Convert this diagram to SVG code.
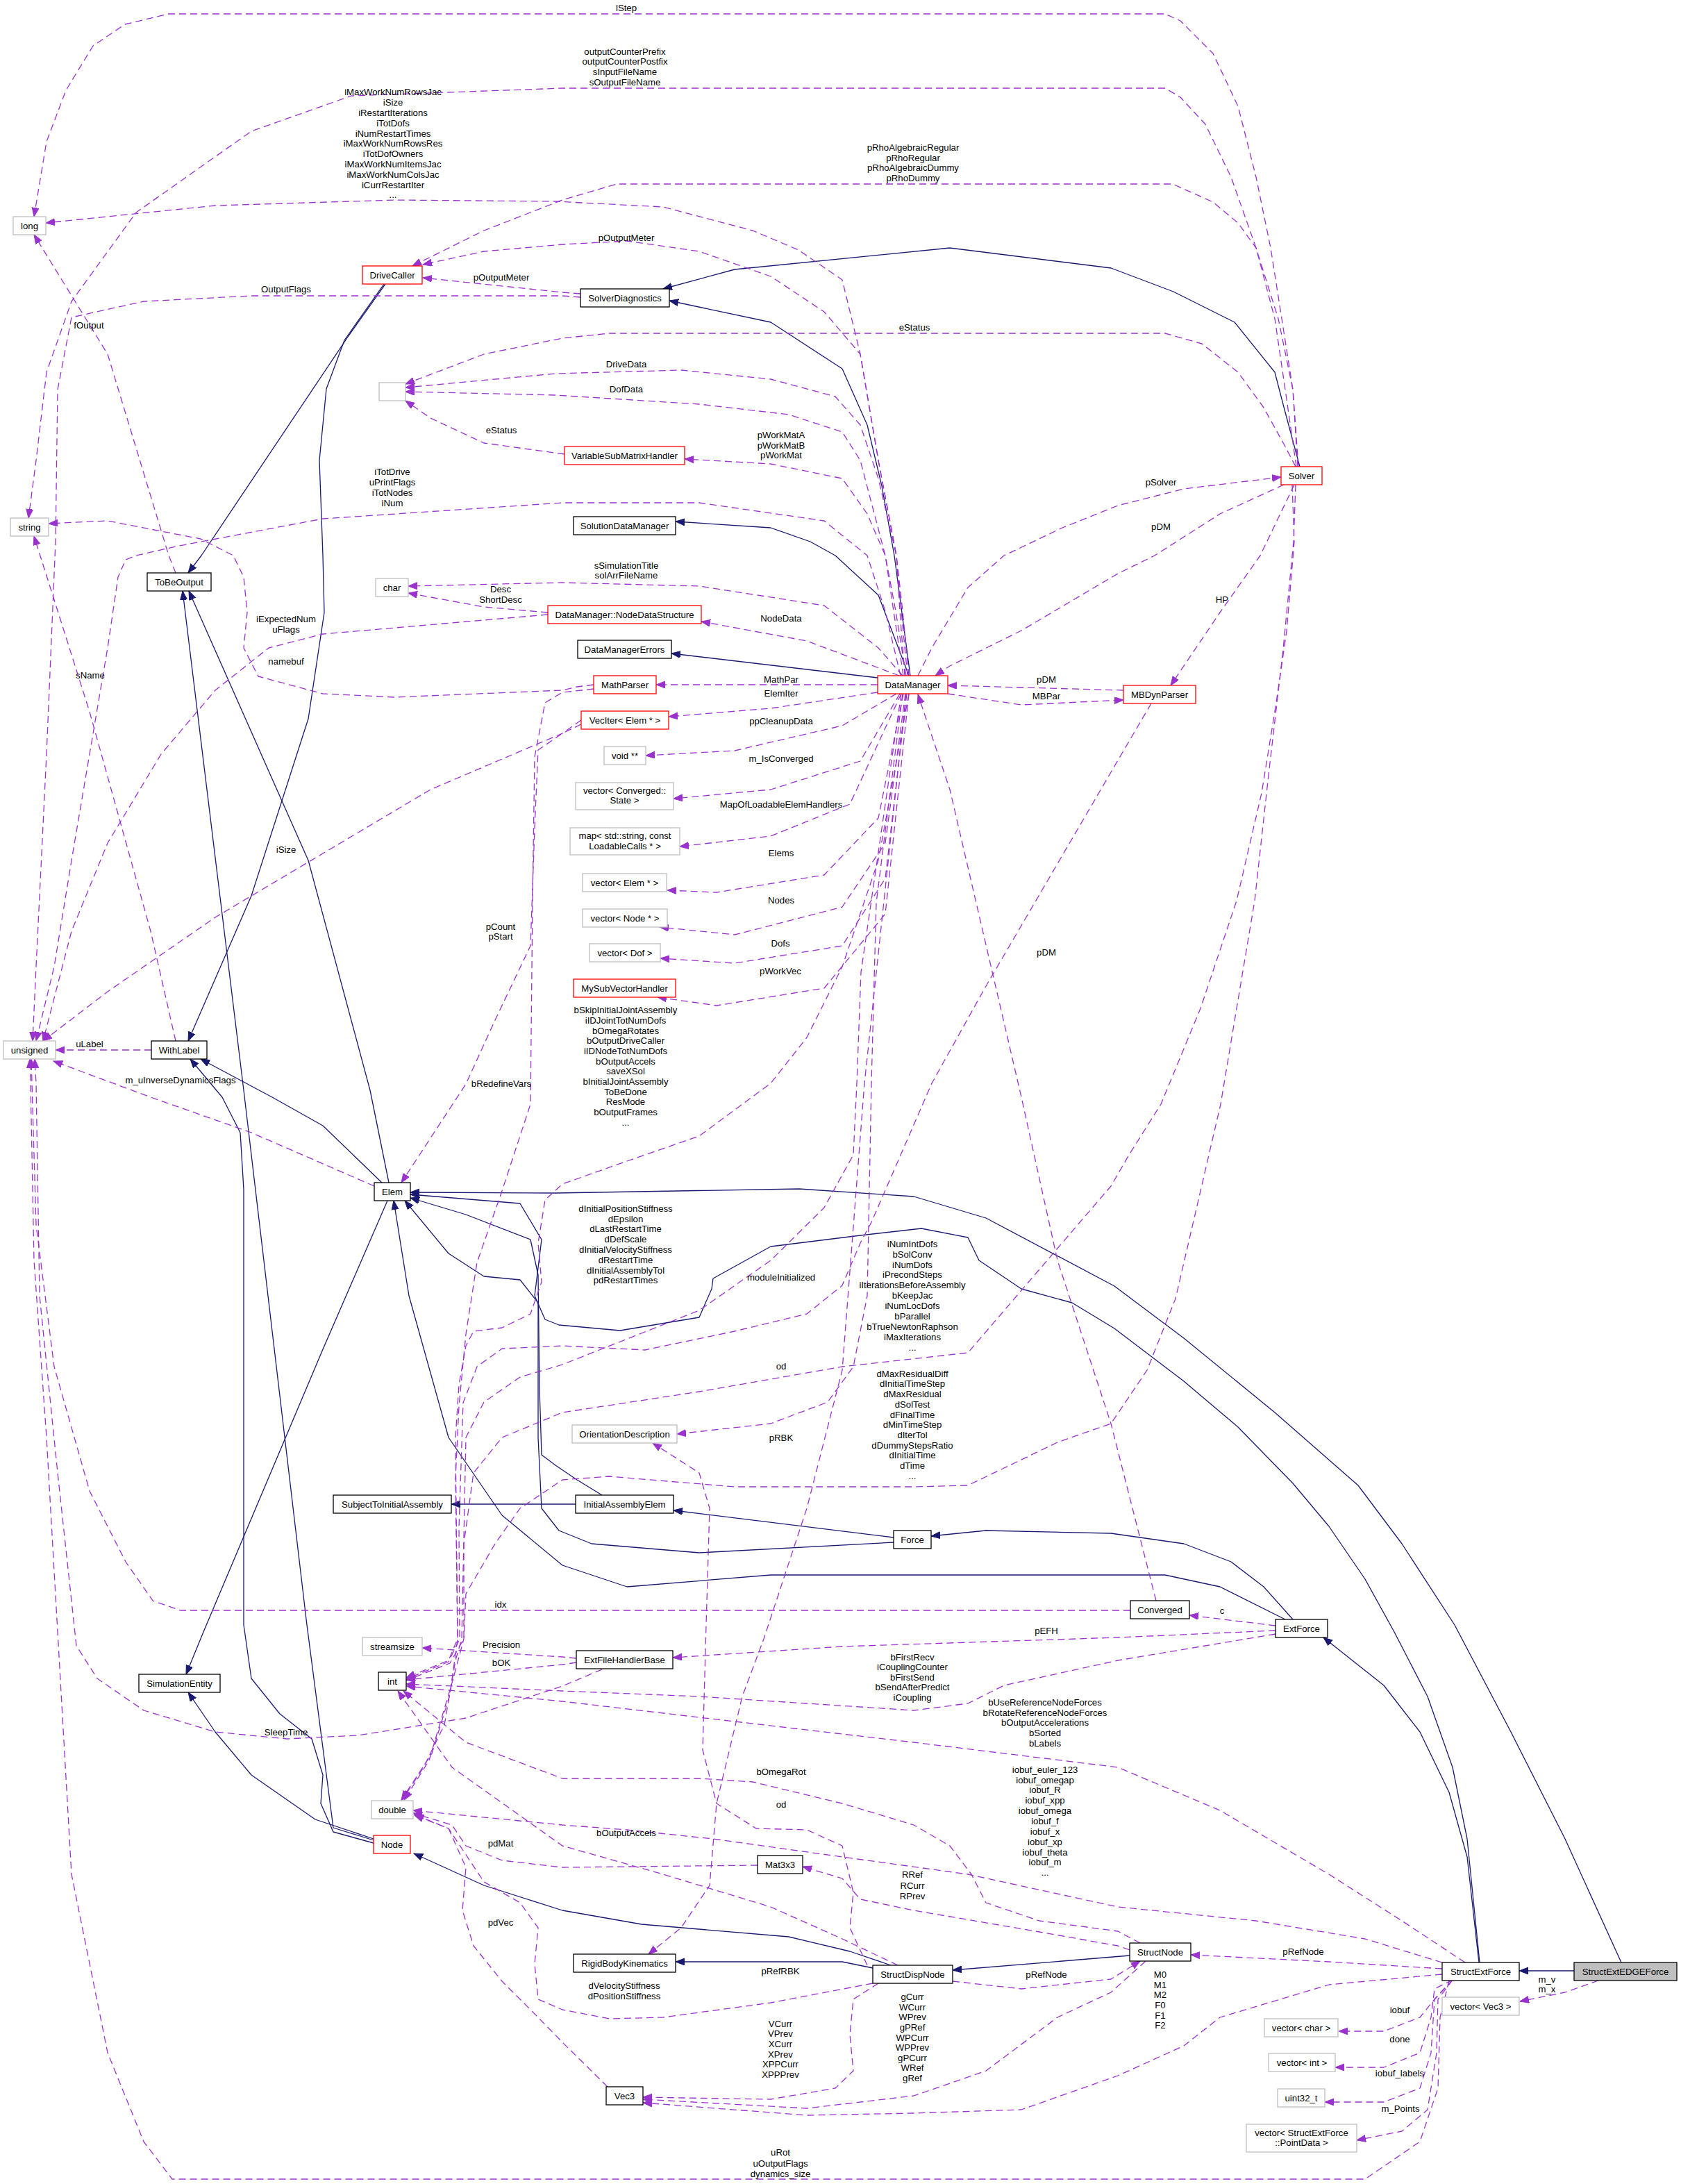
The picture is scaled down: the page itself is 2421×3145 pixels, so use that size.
<svg xmlns="http://www.w3.org/2000/svg" width="2421" height="3145" viewBox="0 0 2421 3145">
<defs>
<marker id="ai" markerUnits="userSpaceOnUse" markerWidth="14" markerHeight="11" refX="13" refY="5" orient="auto"><path d="M0,0 L13,5 L0,10 z" fill="#191970" stroke="#191970" stroke-width="1"/></marker>
<marker id="au" markerUnits="userSpaceOnUse" markerWidth="14" markerHeight="11" refX="13" refY="5" orient="auto"><path d="M0,0 L13,5 L0,10 z" fill="#9a32cd" stroke="#9a32cd" stroke-width="1"/></marker>
</defs>
<style>
text{font-family:"Liberation Sans",Arial,Helvetica,sans-serif;font-size:13.2px;fill:#000;text-anchor:middle}
.n rect{fill:#fff;stroke-width:1.3}
.k rect{stroke:#000}
.r rect{stroke:#ff0000}
.g rect{stroke:#bfbfbf}
.i{fill:none;stroke:#191970;stroke-width:1.3;stroke-linejoin:round;marker-end:url(#ai)}
.u{fill:none;stroke:#9a32cd;stroke-width:1.3;stroke-linejoin:round;stroke-dasharray:10,6;marker-end:url(#au)}
</style>
<rect x="0" y="0" width="2421" height="3145" fill="#fff"/>
<g id="connectors">
<path class="i" d="M2267,2838 L2188,2838"/>
<path class="i" d="M2335,2826 L2254,2648 L2176,2494 L2095,2340 L2019,2223 L1956,2139 L1836,2034 L1705,1927 L1605,1852 L1420,1754 L1316,1723 L1151,1712 L800,1718 L591,1717"/>
<path class="i" d="M2131,2826 L2113,2648 L2092,2545 L2056,2443 L2008,2350 L1966,2274 L1914,2198 L1862,2136 L1783,2055 L1705,1989 L1605,1913 L1544,1876 L1471,1856 L1410,1815 L1394,1782 L1327,1769 L1239,1779 L1110,1795 L1027,1841 L1025,1856 L1007,1897 L893,1916 L805,1908 L785,1900 L770,1866 L780,1785 L749,1733 L591,1720"/>
<path class="i" d="M867,2153 L831,2131 L800,2110 L780,2095 L777,2000 L775,1836 L764,1785 L671,1749 L591,1725"/>
<path class="i" d="M1287,2221 L1007,2236 L852,2223 L805,2204 L780,2172 L775,2070 L775,1876 L749,1843 L697,1838 L646,1805 L583,1729"/>
<path class="i" d="M1851,2332 L1757,2285 L1678,2268 L1110,2268 L903,2285 L810,2254 L723,2182 L646,2070 L589,1866 L567,1729"/>
<path class="i" d="M1862,2332 L1820,2285 L1773,2249 L1705,2223 L1600,2208 L1420,2204 L1341,2212"/>
<path class="i" d="M1287,2214 L970,2175"/>
<path class="i" d="M829,2166 L650,2166"/>
<path class="i" d="M2130,2826 L2113,2674 L2087,2581 L2045,2494 L1993,2427 L1906,2358"/>
<path class="i" d="M550,1703 L465,1621 L392,1580 L289,1525"/>
<path class="i" d="M560,1703 L533,1570 L444,1239 L272,851"/>
<path class="i" d="M558,1729 L465,1943 L293,2350 L268,2411"/>
<path class="i" d="M538,2654 L480,2638 L462,2597 L465,2556 L449,2504 L403,2468 L362,2417 L351,2340 L351,1713 L346,1631 L320,1580 L274,1525"/>
<path class="i" d="M538,2650 L480,2632 L442,2340 L351,1570 L263,851"/>
<path class="i" d="M538,2648 L454,2620 L362,2556 L310,2494 L271,2437"/>
<path class="i" d="M1283,2830 L1224,2810 L1136,2789 L924,2771 L810,2751 L697,2715 L596,2669"/>
<path class="i" d="M1257,2834 L1213,2825 L973,2825"/>
<path class="i" d="M1627,2816 L1372,2837"/>
<path class="i" d="M1309,973 L1265,857 L1203,800 L1167,780 L1110,760 L973,751"/>
<path class="i" d="M1311,973 L1288,800 L1270,700 L1249,612 L1213,531 L1110,464 L964,433"/>
<path class="i" d="M1264,976 L967,941"/>
<path class="i" d="M1872,672 L1850,590 L1836,536 L1778,464 L1690,420 L1600,386 L1368,357 L1058,388 L955,416"/>
<path class="i" d="M555,409 L501,485 L290,800 L271,825"/>
<path class="i" d="M553,409 L496,490 L470,560 L460,663 L465,800 L467,882 L444,1035 L362,1290 L271,1499"/>

<path class="u" d="M1870,672 L1862,561 L1846,459 L1830,357 L1809,255 L1783,153 L1747,77 L1700,30 L1678,20 L243,20 L180,35 L134,66 L95,130 L67,204 L49,312"/>
<path class="u" d="M1867,672 L1851,561 L1836,459 L1809,357 L1773,255 L1736,179 L1700,140 L1678,127 L810,127 L506,138 L362,189 L196,306 L103,434 L67,536 L52,663 L41,746"/>
<path class="u" d="M1869,672 L1862,561 L1841,459 L1809,357 L1783,321 L1747,291 L1689,265 L888,265 L810,288 L697,332 L594,383"/>
<path class="u" d="M1866,672 L1851,643 L1820,587 L1783,536 L1731,495 L1678,480 L878,480 L810,487 L697,510 L584,553"/>
<path class="u" d="M1303,973 L1296,880 L1291,800 L1265,663 L1239,510 L1213,403 L1150,360 L1084,332 L955,298 L800,290 L568,288 L310,296 L66,321"/>
<path class="u" d="M253,825 L243,800 L155,510 L49,338"/>
<path class="u" d="M253,1499 L217,1341 L129,1025 L49,772"/>
<path class="u" d="M855,986 L831,989 L810,994 L568,1004 L465,999 L372,974 L351,933 L356,882 L351,831 L336,800 L289,776 L155,750 L70,754"/>
<path class="u" d="M836,423 L810,421 L609,400"/>
<path class="u" d="M1307,973 L1298,880 L1291,800 L1265,663 L1239,510 L1187,449 L1110,398 L1007,362 L903,347 L810,352 L697,362 L609,381"/>
<path class="u" d="M836,428 L810,426 L362,426 L207,434 L103,457 L83,561 L80,780 L67,1086 L52,1392 L47,1499"/>
<path class="u" d="M1309,973 L1300,880 L1291,800 L1265,689 L1239,612 L1203,571 L1110,546 L981,533 L800,538 L584,558"/>
<path class="u" d="M1305,973 L1290,880 L1275,800 L1239,663 L1213,622 L1136,597 L1007,582 L800,569 L584,564"/>
<path class="u" d="M813,654 L697,638 L620,602 L584,577"/>
<path class="u" d="M1301,973 L1287,880 L1275,800 L1249,740 L1213,689 L1110,668 L986,661"/>
<path class="u" d="M1297,973 L1275,880 L1249,800 L1187,750 L1007,724 L810,724 L465,747 L258,786 L196,800 L181,806 L170,831 L155,933 L129,1086 L103,1239 L78,1392 L52,1499"/>
<path class="u" d="M789,885 L465,913 L387,933 L310,994 L232,1086 L155,1214 L103,1341 L62,1499"/>
<path class="u" d="M789,882 L697,874 L588,854"/>
<path class="u" d="M1300,973 L1265,933 L1187,872 L1007,844 L810,839 L588,844"/>
<path class="u" d="M1295,973 L1162,923 L1010,895"/>
<path class="u" d="M1264,986 L945,986"/>
<path class="u" d="M1264,997 L1110,1020 L963,1032"/>
<path class="u" d="M1291,999 L1213,1045 L1058,1081 L930,1088"/>
<path class="u" d="M1296,999 L1239,1096 L1110,1137 L970,1150"/>
<path class="u" d="M1298,999 L1224,1158 L1110,1204 L979,1219"/>
<path class="u" d="M1301,999 L1265,1178 L1187,1260 L1032,1285 L961,1282"/>
<path class="u" d="M1304,999 L1275,1214 L1213,1306 L1058,1346 L950,1335"/>
<path class="u" d="M1306,999 L1275,1265 L1213,1362 L1058,1387 L951,1380"/>
<path class="u" d="M1309,999 L1275,1316 L1187,1423 L1032,1448 L947,1436"/>
<path class="u" d="M1849,698 L1757,740 L1663,800 L1610,826 L1471,908 L1368,959 L1347,973"/>
<path class="u" d="M1322,973 L1342,933 L1394,846 L1446,800 L1530,760 L1610,728 L1705,704 L1845,687"/>
<path class="u" d="M1864,698 L1815,800 L1757,882 L1686,987"/>
<path class="u" d="M1618,994 L1365,987"/>
<path class="u" d="M1365,999 L1471,1015 L1618,1008"/>
<path class="u" d="M1665,2305 L1631,2172 L1600,2050 L1523,1815 L1471,1580 L1368,1137 L1322,1000"/>
<path class="u" d="M1309,999 L1265,1239 L1213,1392 L1162,1494 L1110,1560 L1007,1636 L903,1672 L810,1705 L785,1728 L775,1790 L780,1846 L764,1892 L723,1912 L682,1917 L671,1938 L661,1994 L656,2070 L659,2360 L646,2391 L585,2416"/>
<path class="u" d="M1658,1013 L1600,1112 L1420,1420 L1342,1560 L1255,1760 L1239,1790 L1213,1851 L1162,1892 L1058,1917 L929,1944 L810,1938 L723,1942 L687,1968 L667,2020 L661,2200 L662,2360 L646,2393 L585,2418"/>
<path class="u" d="M1298,999 L1240,1400 L1234,1560 L1229,1663 L1187,1739 L1110,1815 L1007,1887 L810,1965 L749,1983 L697,2019 L671,2070 L665,2360 L656,2391 L640,2484 L610,2545 L579,2592"/>
<path class="u" d="M1300,999 L1262,1300 L1255,1560 L1249,1866 L1229,1968 L1192,2019 L1110,2050 L975,2065"/>
<path class="u" d="M1305,999 L1245,1560 L1213,1973 L1162,2172 L1100,2360 L1069,2443 L1032,2597 L1022,2715 L981,2776 L934,2814"/>
<path class="u" d="M1861,698 L1864,780 L1853,909 L1838,1012 L1817,1142 L1781,1297 L1729,1452 L1672,1590 L1626,1663 L1600,1708 L1394,1948 L1213,1968 L1007,2004 L810,2034 L723,2070 L682,2121 L668,2223 L668,2360 L648,2395 L585,2420"/>
<path class="u" d="M1866,698 L1863,780 L1848,935 L1827,1116 L1807,1297 L1781,1452 L1758,1590 L1729,1715 L1693,1870 L1652,1973 L1600,2050 L1523,2077 L1394,2139 L1317,2141 L1058,2141 L877,2126 L810,2131 L749,2172 L713,2223 L671,2295 L668,2360 L652,2420 L618,2535 L582,2592"/>
<path class="u" d="M855,992 L810,997 L785,1012 L770,1090 L767,1297 L764,1590 L723,1715 L687,1818 L671,1921 L661,2025 L656,2128 L659,2360 L648,2440 L622,2525 L578,2592"/>
<path class="u" d="M837,1043 L810,1056 L775,1080 L770,1193 L764,1362 L713,1469 L671,1561 L578,1703"/>
<path class="u" d="M837,1037 L810,1056 L620,1137 L465,1229 L310,1321 L155,1428 L62,1499"/>
<path class="u" d="M539,1708 L362,1631 L217,1580 L77,1528"/>
<path class="u" d="M218,1512 L80,1512"/>
<path class="u" d="M1628,2319 L260,2319 L220,2305 L181,2249 L129,2147 L78,1968 L52,1764 L46,1560 L45,1525"/>
<path class="u" d="M867,2404 L810,2428 L671,2474 L516,2499 L413,2504 L310,2494 L207,2463 L140,2417 L110,2370 L83,2121 L57,1866 L52,1560 L50,1525"/>
<path class="u" d="M2087,2852 L2074,2905 L2071,3007 L2045,3084 L1966,3138 L248,3138 L207,3084 L155,2956 L103,2699 L83,2350 L67,2070 L49,1815 L44,1560 L43,1525"/>
<path class="u" d="M830,2388 L810,2386 L608,2373"/>
<path class="u" d="M830,2394 L810,2397 L585,2419"/>
<path class="u" d="M1837,2348 L1610,2358 L1213,2371 L969,2387"/>
<path class="u" d="M1837,2353 L1610,2391 L1446,2427 L1394,2453 L1316,2463 L1162,2453 L1007,2443 L810,2435 L585,2425"/>
<path class="u" d="M1837,2341 L1713,2326"/>
<path class="u" d="M2110,2826 L2019,2766 L1914,2699 L1757,2607 L1610,2545 L1316,2509 L1058,2479 L810,2450 L585,2428"/>
<path class="u" d="M1642,2798 L1610,2781 L1497,2766 L1420,2740 L1399,2699 L1368,2658 L1316,2628 L1213,2597 L1084,2566 L1007,2561 L810,2561 L671,2509 L581,2435"/>
<path class="u" d="M1293,2830 L1213,2792 L1110,2746 L955,2699 L810,2658 L651,2545 L573,2435"/>
<path class="u" d="M2077,2826 L1966,2792 L1809,2766 L1610,2746 L1394,2699 L1213,2674 L1027,2648 L903,2635 L810,2628 L595,2607"/>
<path class="u" d="M1091,2686 L810,2689 L723,2679 L671,2658 L651,2628 L595,2611"/>
<path class="u" d="M875,3005 L810,2941 L775,2905 L723,2853 L682,2802 L666,2751 L671,2689 L646,2633 L597,2614"/>
<path class="u" d="M1257,2856 L1110,2884 L955,2905 L878,2907 L810,2894 L775,2879 L770,2828 L775,2776 L749,2740 L697,2710 L646,2633 L597,2613"/>
<path class="u" d="M1249,2830 L1224,2776 L1229,2725 L1213,2658 L1162,2635 L1089,2633 L1032,2597 L1012,2520 L1017,2340 L1022,2172 L1007,2121 L940,2078"/>
<path class="u" d="M1627,2808 L1610,2802 L1497,2782 L1316,2751 L1239,2735 L1213,2705 L1156,2688"/>
<path class="u" d="M1372,2853 L1471,2864 L1600,2850 L1642,2824"/>
<path class="u" d="M2077,2835 L1914,2825 L1715,2815"/>
<path class="u" d="M1650,2824 L1600,2869 L1523,2905 L1420,2982 L1316,3018 L1162,3036 L926,3023"/>
<path class="u" d="M1265,2856 L1229,2879 L1224,2930 L1229,2982 L1203,3007 L1110,3023 L926,3020"/>
<path class="u" d="M2077,2843 L1914,2858 L1757,2905 L1705,2946 L1610,2989 L1471,3038 L1316,3043 L1162,3046 L926,3028"/>
<path class="u" d="M2092,2851 L2066,2879 L2045,2905 L1993,2925 L1928,2925"/>
<path class="u" d="M2092,2851 L2066,2864 L2061,2905 L2045,2956 L1993,2977 L1923,2977"/>
<path class="u" d="M2092,2851 L2066,2879 L2061,2956 L2045,3007 L1993,3027 L1908,3027"/>
<path class="u" d="M2092,2851 L2071,2879 L2069,2956 L2056,3038 L2019,3069 L1954,3082"/>
<path class="u" d="M2302,2852 L2254,2869 L2189,2882"/>

<g id="labels">
<text x="902" y="16">lStep</text>
<text x="900" y="78.6">outputCounterPrefix</text><text x="900" y="93.4">outputCounterPostfix</text><text x="900" y="108.2">sInputFileName</text><text x="900" y="123">sOutputFileName</text>
<text x="1315" y="216.8">pRhoAlgebraicRegular</text><text x="1315" y="231.6">pRhoRegular</text><text x="1315" y="246.4">pRhoAlgebraicDummy</text><text x="1315" y="261.2">pRhoDummy</text>
<text x="566" y="137.3">iMaxWorkNumRowsJac</text><text x="566" y="152.1">iSize</text><text x="566" y="166.9">iRestartIterations</text><text x="566" y="181.7">iTotDofs</text><text x="566" y="196.5">iNumRestartTimes</text><text x="566" y="211.3">iMaxWorkNumRowsRes</text><text x="566" y="226.1">iTotDofOwners</text><text x="566" y="240.9">iMaxWorkNumItemsJac</text><text x="566" y="255.7">iMaxWorkNumColsJac</text><text x="566" y="270.5">iCurrRestartIter</text><text x="566" y="285.3">...</text>
<text x="902" y="347">pOutputMeter</text>
<text x="722" y="404">pOutputMeter</text>
<text x="412" y="421">OutputFlags</text>
<text x="128" y="473">fOutput</text>
<text x="1317" y="476">eStatus</text>
<text x="722" y="624">eStatus</text>
<text x="902" y="529">DriveData</text>
<text x="902" y="565">DofData</text>
<text x="1125" y="631">pWorkMatA</text><text x="1125" y="645.9">pWorkMatB</text><text x="1125" y="660.2">pWorkMat</text>
<text x="565" y="684.2">iTotDrive</text><text x="565" y="699">uPrintFlags</text><text x="565" y="713.8">iTotNodes</text><text x="565" y="728.6">iNum</text>
<text x="1672" y="699">pSolver</text>
<text x="1672" y="763">pDM</text>
<text x="902" y="818.8">sSimulationTitle</text><text x="902" y="833.1">solArrFileName</text>
<text x="721" y="852.5">Desc</text><text x="721" y="867.8">ShortDesc</text>
<text x="1760" y="868">HP</text>
<text x="412" y="895.8">iExpectedNum</text><text x="412" y="911.1">uFlags</text>
<text x="1125" y="895">NodeData</text>
<text x="412" y="957">namebuf</text>
<text x="130" y="977">sName</text>
<text x="1125" y="983">MathPar</text>
<text x="1125" y="1003">ElemIter</text>
<text x="1507" y="983">pDM</text>
<text x="1507" y="1007">MBPar</text>
<text x="1125" y="1043">ppCleanupData</text>
<text x="1125" y="1097">m_IsConverged</text>
<text x="1125" y="1163">MapOfLoadableElemHandlers</text>
<text x="412" y="1228">iSize</text>
<text x="1125" y="1233">Elems</text>
<text x="1125" y="1301">Nodes</text>
<text x="721" y="1339">pCount</text><text x="721" y="1353">pStart</text>
<text x="1124" y="1363">Dofs</text>
<text x="1507" y="1376">pDM</text>
<text x="1124" y="1403">pWorkVec</text>
<text x="901" y="1459.1">bSkipInitialJointAssembly</text><text x="901" y="1473.8">iIDJointTotNumDofs</text><text x="901" y="1488.5">bOmegaRotates</text><text x="901" y="1503.2">bOutputDriveCaller</text><text x="901" y="1517.9">iIDNodeTotNumDofs</text><text x="901" y="1532.6">bOutputAccels</text><text x="901" y="1547.3">saveXSol</text><text x="901" y="1562">bInitialJointAssembly</text><text x="901" y="1576.7">ToBeDone</text><text x="901" y="1591.4">ResMode</text><text x="901" y="1606.1">bOutputFrames</text><text x="901" y="1620.8">...</text>
<text x="129" y="1508">uLabel</text>
<text x="260" y="1560">m_uInverseDynamicsFlags</text>
<text x="722" y="1565">bRedefineVars</text>
<text x="901" y="1744.7">dInitialPositionStiffness</text><text x="901" y="1759.5">dEpsilon</text><text x="901" y="1774.3">dLastRestartTime</text><text x="901" y="1789.1">dDefScale</text><text x="901" y="1803.9">dInitialVelocityStiffness</text><text x="901" y="1818.7">dRestartTime</text><text x="901" y="1833.5">dInitialAssemblyTol</text><text x="901" y="1848.3">pdRestartTimes</text>
<text x="1125" y="1844">moduleInitialized</text>
<text x="1314" y="1795.7">iNumIntDofs</text><text x="1314" y="1810.6">bSolConv</text><text x="1314" y="1825.5">iNumDofs</text><text x="1314" y="1840.4">iPrecondSteps</text><text x="1314" y="1855.3">iIterationsBeforeAssembly</text><text x="1314" y="1870.2">bKeepJac</text><text x="1314" y="1885.1">iNumLocDofs</text><text x="1314" y="1900">bParallel</text><text x="1314" y="1914.9">bTrueNewtonRaphson</text><text x="1314" y="1929.8">iMaxIterations</text><text x="1314" y="1944.7">...</text>
<text x="1125" y="1972">od</text>
<text x="1314" y="1982.5">dMaxResidualDiff</text><text x="1314" y="1997.2">dInitialTimeStep</text><text x="1314" y="2012">dMaxResidual</text><text x="1314" y="2026.7">dSolTest</text><text x="1314" y="2041.5">dFinalTime</text><text x="1314" y="2056.2">dMinTimeStep</text><text x="1314" y="2070.9">dIterTol</text><text x="1314" y="2085.7">dDummyStepsRatio</text><text x="1314" y="2100.4">dInitialTime</text><text x="1314" y="2115.2">dTime</text><text x="1314" y="2129.9">...</text>
<text x="1125" y="2075">pRBK</text>
<text x="721" y="2315">idx</text>
<text x="1760" y="2324">c</text>
<text x="1507" y="2353">pEFH</text>
<text x="722" y="2373">Precision</text>
<text x="722" y="2399">bOK</text>
<text x="1314" y="2390.8">bFirstRecv</text><text x="1314" y="2405.2">iCouplingCounter</text><text x="1314" y="2419.6">bFirstSend</text><text x="1314" y="2434.4">bSendAfterPredict</text><text x="1314" y="2448.8">iCoupling</text>
<text x="1505" y="2456">bUseReferenceNodeForces</text><text x="1505" y="2470.9">bRotateReferenceNodeForces</text><text x="1505" y="2484.6">bOutputAccelerations</text><text x="1505" y="2499.6">bSorted</text><text x="1505" y="2515">bLabels</text>
<text x="412" y="2499">SleepTime</text>
<text x="1505" y="2552.6">iobuf_euler_123</text><text x="1505" y="2567.5">iobuf_omegap</text><text x="1505" y="2582.3">iobuf_R</text><text x="1505" y="2597.2">iobuf_xpp</text><text x="1505" y="2612.1">iobuf_omega</text><text x="1505" y="2626.9">iobuf_f</text><text x="1505" y="2641.8">iobuf_x</text><text x="1505" y="2656.7">iobuf_xp</text><text x="1505" y="2671.6">iobuf_theta</text><text x="1505" y="2686.4">iobuf_m</text><text x="1505" y="2701.3">...</text>
<text x="1125" y="2556">bOmegaRot</text>
<text x="1125" y="2603">od</text>
<text x="902" y="2644">bOutputAccels</text>
<text x="721" y="2659">pdMat</text>
<text x="1314" y="2704.4">RRef</text><text x="1314" y="2719.8">RCurr</text><text x="1314" y="2734.6">RPrev</text>
<text x="721" y="2773">pdVec</text>
<text x="1877" y="2815">pRefNode</text>
<text x="1507" y="2848">pRefNode</text>
<text x="1124" y="2842.5">pRefRBK</text>
<text x="1671" y="2847.6">M0</text><text x="1671" y="2863">M1</text><text x="1671" y="2876.9">M2</text><text x="1671" y="2891.8">F0</text><text x="1671" y="2906.6">F1</text><text x="1671" y="2921">F2</text>
<text x="2228" y="2855.3">m_v</text><text x="2228" y="2869.2">m_x</text>
<text x="899" y="2863.6">dVelocityStiffness</text><text x="899" y="2878.6">dPositionStiffness</text>
<text x="1314" y="2880">gCurr</text><text x="1314" y="2894.6">WCurr</text><text x="1314" y="2909.2">WPrev</text><text x="1314" y="2923.9">gPRef</text><text x="1314" y="2938.5">WPCurr</text><text x="1314" y="2953.1">WPPrev</text><text x="1314" y="2967.7">gPCurr</text><text x="1314" y="2982.3">WRef</text><text x="1314" y="2997">gRef</text>
<text x="2016" y="2899">iobuf</text>
<text x="2016" y="2941">done</text>
<text x="2016" y="2990">iobuf_labels</text>
<text x="2017" y="3041">m_Points</text>
<text x="1124" y="2918.6">VCurr</text><text x="1124" y="2933.3">VPrev</text><text x="1124" y="2947.9">XCurr</text><text x="1124" y="2962.6">XPrev</text><text x="1124" y="2977.2">XPPCurr</text><text x="1124" y="2991.9">XPPPrev</text>
<text x="1124" y="3104.3">uRot</text><text x="1124" y="3119.6">uOutputFlags</text><text x="1124" y="3135.1">dynamics_size</text>
</g>
</g>

<g id="long" class="n g"><rect x="19" y="312" width="47" height="26"/><text x="42.5" y="329.5">long</text></g>
<g id="string" class="n g"><rect x="15" y="746" width="55" height="26"/><text x="42.5" y="763.5">string</text></g>
<g id="DriveCaller" class="n r"><rect x="522" y="383" width="86" height="26"/><text x="565" y="400.5">DriveCaller</text></g>
<g id="empty" class="n g"><rect x="546" y="551" width="38" height="26"/></g>
<g id="SolverDiagnostics" class="n k"><rect x="836" y="416" width="128" height="26"/><text x="900" y="433.5">SolverDiagnostics</text></g>
<g id="VariableSubMatrixHandler" class="n r"><rect x="813" y="643" width="173" height="26"/><text x="899.5" y="660.5">VariableSubMatrixHandler</text></g>
<g id="SolutionDataManager" class="n k"><rect x="826" y="744" width="147" height="26"/><text x="899.5" y="761.5">SolutionDataManager</text></g>
<g id="Solver" class="n r"><rect x="1845" y="672" width="59" height="26"/><text x="1874.5" y="689.5">Solver</text></g>
<g id="ToBeOutput" class="n k"><rect x="212" y="825" width="92" height="26"/><text x="258" y="842.5">ToBeOutput</text></g>
<g id="char" class="n g"><rect x="541" y="833" width="47" height="26"/><text x="564.5" y="850.5">char</text></g>
<g id="NodeDataStructure" class="n r"><rect x="789" y="872" width="221" height="26"/><text x="899.5" y="889.5">DataManager::NodeDataStructure</text></g>
<g id="DataManagerErrors" class="n k"><rect x="832" y="922" width="135" height="26"/><text x="899.5" y="939.5">DataManagerErrors</text></g>
<g id="MathParser" class="n r"><rect x="855" y="973" width="90" height="26"/><text x="900" y="990.5">MathParser</text></g>
<g id="VecIterElem" class="n r"><rect x="837" y="1024" width="126" height="26"/><text x="900" y="1041.5">VecIter&lt; Elem * &gt;</text></g>
<g id="voidpp" class="n g"><rect x="870" y="1075" width="60" height="26"/><text x="900" y="1092.5">void **</text></g>
<g id="vectorConvergedState" class="n g"><rect x="829" y="1127" width="141" height="39"/><text x="899.5" y="1143.2">vector&lt; Converged::</text><text x="899.5" y="1157">State &gt;</text></g>
<g id="mapLoadableCalls" class="n g"><rect x="821" y="1192" width="158" height="39"/><text x="900" y="1208">map&lt; std::string, const</text><text x="900" y="1223.3">LoadableCalls * &gt;</text></g>
<g id="vectorElem" class="n g"><rect x="839" y="1258" width="121" height="26"/><text x="899.5" y="1275.5">vector&lt; Elem * &gt;</text></g>
<g id="vectorNode" class="n g"><rect x="839" y="1309" width="122" height="26"/><text x="900" y="1326.5">vector&lt; Node * &gt;</text></g>
<g id="vectorDof" class="n g"><rect x="849" y="1359" width="102" height="26"/><text x="900" y="1376.5">vector&lt; Dof &gt;</text></g>
<g id="MySubVectorHandler" class="n r"><rect x="826" y="1410" width="147" height="26"/><text x="899.5" y="1427.5">MySubVectorHandler</text></g>
<g id="DataManager" class="n r"><rect x="1264" y="973" width="101" height="26"/><text x="1314.5" y="990.5">DataManager</text></g>
<g id="MBDynParser" class="n r"><rect x="1618" y="987" width="104" height="26"/><text x="1670" y="1004.5">MBDynParser</text></g>
<g id="unsigned" class="n g"><rect x="5" y="1499" width="75" height="26"/><text x="42.5" y="1516.5">unsigned</text></g>
<g id="WithLabel" class="n k"><rect x="218" y="1499" width="80" height="26"/><text x="258" y="1516.5">WithLabel</text></g>
<g id="Elem" class="n k"><rect x="539" y="1703" width="52" height="26"/><text x="565" y="1720.5">Elem</text></g>
<g id="SubjectToInitialAssembly" class="n k"><rect x="480" y="2153" width="170" height="26"/><text x="565" y="2170.5">SubjectToInitialAssembly</text></g>
<g id="OrientationDescription" class="n g"><rect x="824" y="2052" width="151" height="26"/><text x="899.5" y="2069.5">OrientationDescription</text></g>
<g id="InitialAssemblyElem" class="n k"><rect x="829" y="2153" width="141" height="26"/><text x="899.5" y="2170.5">InitialAssemblyElem</text></g>
<g id="Force" class="n k"><rect x="1287" y="2204" width="54" height="26"/><text x="1314" y="2221.5">Force</text></g>
<g id="Converged" class="n k"><rect x="1628" y="2305" width="85" height="26"/><text x="1670.5" y="2322.5">Converged</text></g>
<g id="ExtForce" class="n k"><rect x="1837" y="2332" width="75" height="26"/><text x="1874.5" y="2349.5">ExtForce</text></g>
<g id="SimulationEntity" class="n k"><rect x="200" y="2411" width="117" height="26"/><text x="258.5" y="2428.5">SimulationEntity</text></g>
<g id="streamsize" class="n g"><rect x="522" y="2358" width="86" height="26"/><text x="565" y="2375.5">streamsize</text></g>
<g id="int" class="n k"><rect x="545" y="2408" width="40" height="26"/><text x="565" y="2425.5">int</text></g>
<g id="double" class="n g"><rect x="535" y="2593" width="60" height="26"/><text x="565" y="2610.5">double</text></g>
<g id="Node" class="n r"><rect x="538" y="2643" width="53" height="26"/><text x="564.5" y="2660.5">Node</text></g>
<g id="ExtFileHandlerBase" class="n k"><rect x="830" y="2377" width="139" height="26"/><text x="899.5" y="2394.5">ExtFileHandlerBase</text></g>
<g id="Mat3x3" class="n k"><rect x="1091" y="2672" width="65" height="26"/><text x="1123.5" y="2689.5">Mat3x3</text></g>
<g id="RigidBodyKinematics" class="n k"><rect x="826" y="2814" width="147" height="26"/><text x="899.5" y="2831.5">RigidBodyKinematics</text></g>
<g id="StructDispNode" class="n k"><rect x="1257" y="2830" width="115" height="26"/><text x="1314.5" y="2847.5">StructDispNode</text></g>
<g id="Vec3" class="n k"><rect x="873" y="3005" width="53" height="26"/><text x="899.5" y="3022.5">Vec3</text></g>
<g id="StructNode" class="n k"><rect x="1627" y="2798" width="88" height="26"/><text x="1671" y="2815.5">StructNode</text></g>
<g id="StructExtForce" class="n k"><rect x="2077" y="2826" width="111" height="26"/><text x="2132.5" y="2843.5">StructExtForce</text></g>
<g id="StructExtEDGEForce" class="n k"><rect x="2267" y="2826" width="148" height="26" style="fill:#bfbfbf"/><text x="2341" y="2843.5">StructExtEDGEForce</text></g>
<g id="vectorVec3" class="n g"><rect x="2077" y="2876" width="111" height="26"/><text x="2132.5" y="2893.5">vector&lt; Vec3 &gt;</text></g>
<g id="vectorChar" class="n g"><rect x="1821" y="2907" width="106" height="26"/><text x="1874" y="2924.5">vector&lt; char &gt;</text></g>
<g id="vectorInt" class="n g"><rect x="1827" y="2957" width="96" height="26"/><text x="1875" y="2974.5">vector&lt; int &gt;</text></g>
<g id="uint32_t" class="n g"><rect x="1840" y="3008" width="68" height="26"/><text x="1874" y="3025.5">uint32_t</text></g>
<g id="vectorPointData" class="n g"><rect x="1795" y="3059" width="159" height="40"/><text x="1874.5" y="3076">vector&lt; StructExtForce</text><text x="1874.5" y="3090.3">::PointData &gt;</text></g>
</svg>
